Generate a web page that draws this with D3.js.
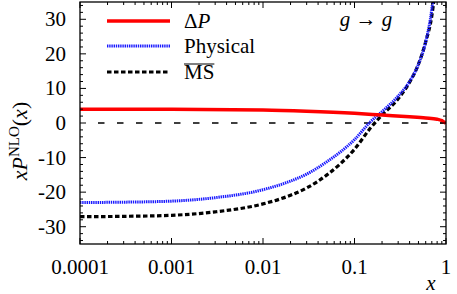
<!DOCTYPE html>
<html>
<head>
<meta charset="utf-8">
<script src="https://cdn.jsdelivr.net/npm/d3@7"></script>
<style>
  body { margin: 0; background: #fff; }
</style>
</head>
<body>
<svg id="chart" width="457" height="294"></svg>
<script>
// values
const xTicks = [0.0001, 0.001, 0.01, 0.1, 1];
const xTickLabels = ["0.0001", "0.001", "0.01", "0.1", "1"];
const yTicks = [-30, -20, -10, 0, 10, 20, 30];

const deltaX = [0.0001, 0.001, 0.01, 0.03, 0.1, 0.2, 0.4, 0.6, 0.8, 0.9, 0.95, 1.0];
const deltaY = [4.0, 3.95, 3.75, 3.4, 2.8, 2.3, 1.8, 1.45, 1.1, 0.7, 0.3, -0.1];

const curveX = [0.0001, 0.0003, 0.001, 0.003, 0.01, 0.02, 0.03, 0.05, 0.07, 0.1, 0.15, 0.2, 0.3, 0.4, 0.5, 0.6, 0.7, 0.8];
const physY = [-23.0, -22.9, -22.6, -21.6, -19.3, -16.8, -14.8, -11.2, -8.4, -4.8, 0.4, 3.3, 7.8, 12.0, 17.0, 23.5, 33, 48];
const msbarY = [-27.1, -27.0, -26.7, -25.7, -23.4, -20.9, -18.8, -15.0, -11.8, -7.6, -1.4, 2.3, 7.0, 11.8, 17.0, 23.5, 31, 44];

const pl = 80, pr = 446, pt = 2, pb = 244;
const font = "Liberation Serif";
const fs = 21;

const svg = d3.select("#chart");

const x = d3.scaleLog().domain([0.0001, 1]).range([pl, pr]);
const y = d3.scaleLinear().domain([-35, 35]).range([pb, pt]);

svg.append("clipPath").attr("id", "clip")
    .append("rect")
    .attr("x", pl).attr("y", pt)
    .attr("width", pr - pl).attr("height", pb - pt);

const plot = svg.append("g").attr("clip-path", "url(#clip)");

// zero line
plot.append("line")
    .attr("x1", x(0.0001) + 18).attr("x2", pr)
    .attr("y1", y(0)).attr("y2", y(0))
    .attr("stroke", "#000")
    .attr("stroke-width", 1.4)
    .attr("stroke-dasharray", "6.5,12.5");

const line = d3.line()
    .x(d => x(d[0]))
    .y(d => y(d[1]))
    .curve(d3.curveMonotoneX);

const series = [
  { name: "msbar", xs: curveX, ys: msbarY, color: "#000", width: 3.2, dash: "4.5,2.5" },
  { name: "phys", xs: curveX, ys: physY, color: "#1a1aff", width: 3, dash: "1.4,0.8" },
  { name: "delta", xs: deltaX, ys: deltaY, color: "#ff0000", width: 3.5, dash: null }
];

series.forEach(s => {
  plot.append("path")
      .datum(s.xs.map((v, i) => [v, s.ys[i]]))
      .attr("d", line)
      .attr("fill", "none")
      .attr("stroke", s.color)
      .attr("stroke-width", s.width)
      .attr("stroke-dasharray", s.dash);
});

// ticks on all four sides, pointing inward
const minorX = [];
for (let e = -4; e < 0; e++) {
  for (let k = 2; k <= 9; k++) minorX.push(k * Math.pow(10, e));
}
const minorY = d3.range(-34, 35, 2).filter(v => v % 10 !== 0);

const ticks = svg.append("g").attr("stroke", "#000").attr("stroke-width", 1);

function xTick(v, len) {
  ticks.append("line").attr("x1", x(v)).attr("x2", x(v)).attr("y1", pb).attr("y2", pb - len);
  ticks.append("line").attr("x1", x(v)).attr("x2", x(v)).attr("y1", pt).attr("y2", pt + len);
}
function yTick(v, len) {
  ticks.append("line").attr("x1", pl).attr("x2", pl + len).attr("y1", y(v)).attr("y2", y(v));
  ticks.append("line").attr("x1", pr).attr("x2", pr - len).attr("y1", y(v)).attr("y2", y(v));
}
xTicks.forEach(v => xTick(v, 6));
minorX.forEach(v => xTick(v, 3));
yTicks.forEach(v => yTick(v, 6));
minorY.forEach(v => yTick(v, 3));

// frame
svg.append("rect")
    .attr("x", pl).attr("y", pt)
    .attr("width", pr - pl).attr("height", pb - pt)
    .attr("fill", "none")
    .attr("stroke", "#000")
    .attr("stroke-width", 1.3);

// helper: text with the serif font set on the element itself
function txt(parent, size) {
  return parent.append("text").attr("font-family", font).attr("font-size", size || fs);
}
function span(parent, s, size) {
  return parent.append("tspan").attr("font-family", font).attr("font-size", size || fs).text(s);
}

// tick labels
xTicks.forEach((v, i) => {
  txt(svg).attr("x", x(v)).attr("y", 274).attr("text-anchor", "middle").text(xTickLabels[i]);
});
yTicks.forEach(v => {
  txt(svg).attr("x", 66).attr("y", y(v) + 7).attr("text-anchor", "end").text(v);
});

// axis labels
txt(svg).attr("x", 431).attr("y", 290).attr("text-anchor", "middle")
    .attr("font-style", "italic").text("x");

const yl = txt(svg, 22).attr("transform", "translate(27,141) rotate(-90)").attr("text-anchor", "middle");
span(yl, "xP", 22).attr("font-style", "italic");
span(yl, "NLO", 15).attr("dy", -8);
span(yl, "(", 22).attr("dy", 8);
span(yl, "x", 22).attr("font-style", "italic");
span(yl, ")", 22);

// process label
const gl = txt(svg).attr("x", 366).attr("y", 26).attr("text-anchor", "middle");
span(gl, "g").attr("font-style", "italic");
span(gl, " \u2192 ");
span(gl, "g").attr("font-style", "italic");

// legend
const legendY = [21, 46, 72];
series.slice().reverse().forEach((s, i) => {
  svg.append("line")
      .attr("x1", 107).attr("x2", 170)
      .attr("y1", legendY[i]).attr("y2", legendY[i])
      .attr("stroke", s.color)
      .attr("stroke-width", s.width)
      .attr("stroke-dasharray", s.dash);
});

const t0 = txt(svg).attr("x", 184).attr("y", legendY[0] + 7);
span(t0, "\u0394");
span(t0, "P").attr("font-style", "italic");

txt(svg).attr("x", 184).attr("y", legendY[1] + 7).text("Physical");

const t2 = txt(svg).attr("x", 184).attr("y", legendY[2] + 7).text("MS");
const msWidth = t2.node().getComputedTextLength();
svg.append("line")
    .attr("x1", 184).attr("x2", 184 + msWidth)
    .attr("y1", legendY[2] - 8).attr("y2", legendY[2] - 8)
    .attr("stroke", "#000").attr("stroke-width", 1);
</script>
</body>
</html>
